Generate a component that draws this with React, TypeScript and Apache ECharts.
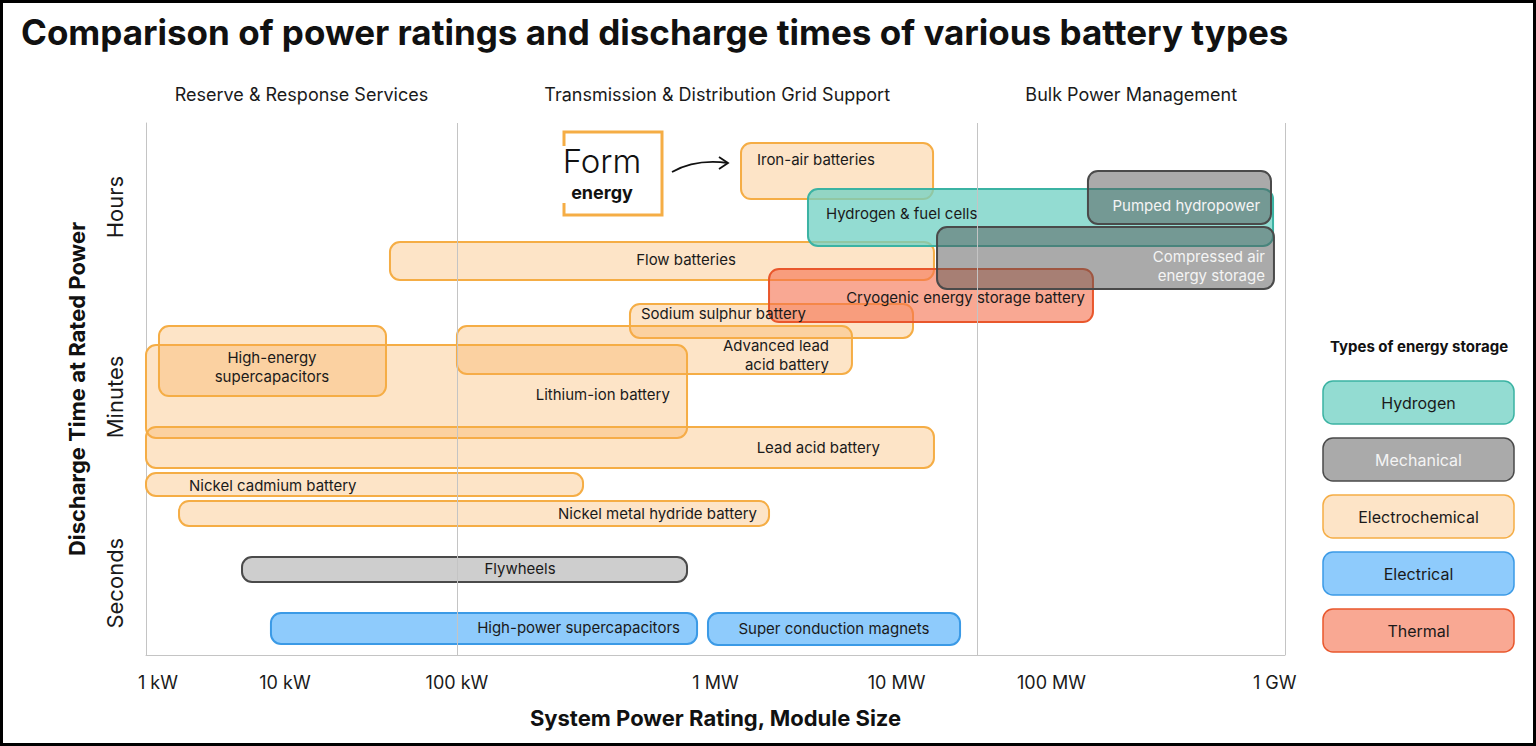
import React, { useEffect, useRef } from 'react';
import * as echarts from 'echarts';

const FONT = 'Inter, "Noto Sans", sans-serif';

// Storage types (legend)
const categories = ['Hydrogen', 'Mechanical', 'Electrochemical', 'Electrical', 'Thermal'];
const categoryFill = ['rgba(111,208,195,0.75)', 'rgba(85,85,85,0.5)', 'rgba(248,170,80,0.32)', 'rgba(89,178,250,0.68)', 'rgba(245,110,75,0.6)'];
const categoryStroke = ['#3bb3a3', '#4a4a4a', '#f5ad45', '#3b9ae6', '#e9572c'];
const categoryText = ['#1a1a1a', '#f4f4f4', '#1a1a1a', '#1a1a1a', '#1a1a1a'];

// Technologies (x on the chart's power-rating scale 0–100, y on the discharge-time scale 0–100)
const technologies = [
  'Iron-air batteries',
  'Flow batteries',
  'Sodium sulphur battery',
  'Advanced lead\nacid battery',
  'Lithium-ion battery',
  'High-energy\nsupercapacitors',
  'Lead acid battery',
  'Nickel cadmium battery',
  'Nickel metal hydride battery',
  'Hydrogen & fuel cells',
  'Cryogenic energy storage battery',
  'Compressed air\nenergy storage',
  'Pumped hydropower',
  'Flywheels',
  'High-power supercapacitors',
  'Super conduction magnets',
];
const techCategory = [2, 2, 2, 2, 2, 2, 2, 2, 2, 0, 4, 1, 1, 1, 3, 3];
const powerFrom = [52.24, 21.42, 42.49, 27.3, 0, 1.14, 0, 0, 2.9, 58.12, 54.7, 69.45, 82.7, 8.43, 10.97, 49.34];
const powerTo = [69.1, 69.18, 67.34, 61.98, 47.5, 21.07, 69.18, 38.37, 54.7, 98.95, 83.14, 99.03, 98.77, 47.5, 48.38, 71.47];
const timeFrom = [85.71, 70.49, 59.59, 52.82, 40.79, 48.68, 35.15, 29.89, 24.25, 76.88, 62.59, 68.8, 81.02, 13.72, 2.07, 1.88];
const timeTo = [96.24, 77.63, 65.98, 61.84, 58.27, 61.84, 42.86, 34.21, 28.95, 87.59, 72.56, 80.45, 90.98, 18.42, 7.89, 7.89];

// Label placement inside each box (same scale units)
const labelX = [53.64, 47.41, 43.46, 59.97, 46.0, 11.06, 64.44, 3.78, 53.64, 59.7, 82.44, 98.24, 97.81, 32.84, 46.88, 60.4];
const labelY = [93.23, 74.25, 64.1, 56.39, 49.06, 54.14, 38.91, 31.95, 26.69, 83.08, 67.29, 73.12, 84.4, 16.17, 5.08, 4.89];
const labelAlign = ['left', 'center', 'left', 'right', 'right', 'center', 'right', 'left', 'right', 'left', 'right', 'right', 'right', 'center', 'right', 'center'];

// Axes
const xTickValues = [1.05, 12.2, 27.3, 50.0, 65.9, 79.5, 99.1];
const xTickLabels = ['1 kW', '10 kW', '100 kW', '1 MW', '10 MW', '100 MW', '1 GW'];
const yTickValues = [13.5, 48.5, 84.2];
const yTickLabels = ['Seconds', 'Minutes', 'Hours'];
const sectionNames = ['Reserve & Response Services', 'Transmission & Distribution Grid Support', 'Bulk Power Management'];
const sectionDividers = [27.3, 73.0, 100];

function nearestLabel(values: number[], labels: string[], v: number) {
  let best = 0;
  for (let i = 1; i < values.length; i++) {
    if (Math.abs(values[i] - v) < Math.abs(values[best] - v)) best = i;
  }
  return labels[best];
}

export default function App() {
  const ref = useRef<HTMLDivElement>(null);

  useEffect(() => {
    document.body.style.margin = '0';
    document.body.style.overflow = 'hidden';
    const chart = echarts.init(ref.current!, null, { renderer: 'svg' });

    const data = technologies.map((_, i) => [powerFrom[i], powerTo[i], timeFrom[i], timeTo[i], i]);

    const option: any = {
      animation: false,
      backgroundColor: '#ffffff',
      title: {
        text: 'Comparison of power ratings and discharge times of various battery types',
        left: 21,
        top: 14,
        padding: 0,
        textStyle: { fontSize: 35, fontWeight: 'bold', color: '#111', fontFamily: FONT },
      },
      grid: { left: 146, top: 123, width: 1139, height: 532 },
      xAxis: {
        type: 'value',
        min: 0,
        max: 100,
        name: 'System Power Rating, Module Size',
        nameLocation: 'middle',
        nameGap: 52,
        nameTextStyle: { fontSize: 22, fontWeight: 'bold', color: '#111', fontFamily: FONT },
        axisLine: { show: true, lineStyle: { color: '#c4c4c4', width: 1 } },
        axisTick: { show: false },
        splitLine: { show: false },
        axisLabel: {
          customValues: xTickValues,
          formatter: (v: number) => nearestLabel(xTickValues, xTickLabels, v),
          fontSize: 18,
          color: '#1a1a1a',
          fontFamily: FONT,
          margin: 18,
        },
      },
      yAxis: {
        type: 'value',
        min: 0,
        max: 100,
        name: 'Discharge Time at Rated Power',
        nameLocation: 'middle',
        nameGap: 58,
        nameTextStyle: { fontSize: 22, fontWeight: 'bold', color: '#111', fontFamily: FONT },
        axisLine: { show: true, lineStyle: { color: '#c4c4c4', width: 1 } },
        axisTick: { show: false },
        splitLine: { show: false },
        axisLabel: {
          customValues: yTickValues,
          formatter: (v: number) => nearestLabel(yTickValues, yTickLabels, v),
          rotate: 90,
          fontSize: 22,
          color: '#1a1a1a',
          fontFamily: FONT,
          margin: 20,
        },
      },
      series: [
        {
          type: 'custom',
          data,
          encode: { x: [0, 1], y: [2, 3] },
          clip: false,
          renderItem: (params: any, api: any) => {
            const i = api.value(4) as number;
            const c = techCategory[i];
            const tl = api.coord([api.value(0), api.value(3)]);
            const br = api.coord([api.value(1), api.value(2)]);
            const lp = api.coord([labelX[i], labelY[i]]);
            const isFly = technologies[i] === 'Flywheels';
            const fill = isFly ? 'rgba(75,75,75,0.27)' : categoryFill[c];
            const txt = isFly ? '#1a1a1a' : categoryText[c];
            return {
              type: 'group',
              children: [
                {
                  type: 'rect',
                  z2: i,
                  shape: { x: tl[0], y: tl[1], width: br[0] - tl[0], height: br[1] - tl[1], r: 10 },
                  style: { fill, stroke: categoryStroke[c], lineWidth: 2 },
                },
                {
                  type: 'text',
                  z2: 100 + i,
                  style: {
                    text: technologies[i],
                    x: lp[0],
                    y: lp[1],
                    align: labelAlign[i],
                    verticalAlign: 'middle',
                    fill: txt,
                    fontSize: 15,
                    lineHeight: 19,
                    fontFamily: FONT,
                  },
                },
              ],
            };
          },
          markLine: {
            silent: true,
            symbol: ['none', 'none'],
            label: { show: false },
            lineStyle: { color: '#c4c4c4', width: 1, type: 'solid' },
            data: sectionDividers.map((v) => ({ xAxis: v })),
          },
        },
      ],
    };

    chart.setOption(option);

    // Section headers centred between dividers, legend and logo
    const bounds = [0, ...sectionDividers];
    const headers = sectionNames.map((name, i) => {
      const cx = chart.convertToPixel({ xAxisIndex: 0 }, (bounds[i] + bounds[i + 1]) / 2) as number;
      return {
        type: 'text',
        x: cx,
        y: 94,
        style: { text: name, align: 'center', verticalAlign: 'middle', fontSize: 18, fill: '#1a1a1a', fontFamily: FONT },
      };
    });

    const legendItems: any[] = [];
    categories.forEach((cat, i) => {
      legendItems.push({
        type: 'rect',
        shape: { x: 0, y: i * 57, width: 191, height: 43, r: 10 },
        style: { fill: categoryFill[i], stroke: categoryStroke[i], lineWidth: 1.5 },
      });
      legendItems.push({
        type: 'text',
        x: 95.5,
        y: i * 57 + 21.5,
        style: { text: cat, align: 'center', verticalAlign: 'middle', fontSize: 16, fill: categoryText[i], fontFamily: FONT },
      });
    });

    chart.setOption({
      graphic: [
        {
          type: 'rect',
          shape: { x: 1.5, y: 1.5, width: 1533, height: 743 },
          style: { fill: 'none', stroke: '#000', lineWidth: 3 },
          silent: true,
        },
        ...headers,
        {
          type: 'text',
          x: 1419,
          y: 346,
          style: { text: 'Types of energy storage', align: 'center', verticalAlign: 'middle', fontSize: 15, fontWeight: 'bold', fill: '#111', fontFamily: FONT },
        },
        { type: 'group', x: 1323, y: 381, children: legendItems },
        {
          type: 'group',
          children: [
            {
              type: 'polyline',
              shape: { points: [[564, 146], [564, 132], [662, 132], [662, 215], [564, 215], [564, 203]] },
              style: { stroke: '#f5ad45', lineWidth: 3, fill: 'none' },
            },
            {
              type: 'text',
              x: 602,
              y: 161,
              style: { text: 'Form', align: 'center', verticalAlign: 'middle', fontSize: 33, fontWeight: 300, fill: '#111', fontFamily: FONT },
            },
            {
              type: 'text',
              x: 602,
              y: 192,
              style: { text: 'energy', align: 'center', verticalAlign: 'middle', fontSize: 18, fontWeight: 'bold', fill: '#111', fontFamily: FONT },
            },
            {
              type: 'bezierCurve',
              shape: { x1: 672, y1: 172, cpx1: 688, cpy1: 163, cpx2: 705, cpy2: 160, x2: 728, y2: 163 },
              style: { stroke: '#111', lineWidth: 1.8, fill: 'none' },
            },
            {
              type: 'polyline',
              shape: { points: [[719, 157], [728, 163], [719, 169]] },
              style: { stroke: '#111', lineWidth: 1.8, fill: 'none' },
            },
          ],
        },
      ],
    });

    return () => chart.dispose();
  }, []);

  return <div ref={ref} style={{ width: 1536, height: 746 }} />;
}
